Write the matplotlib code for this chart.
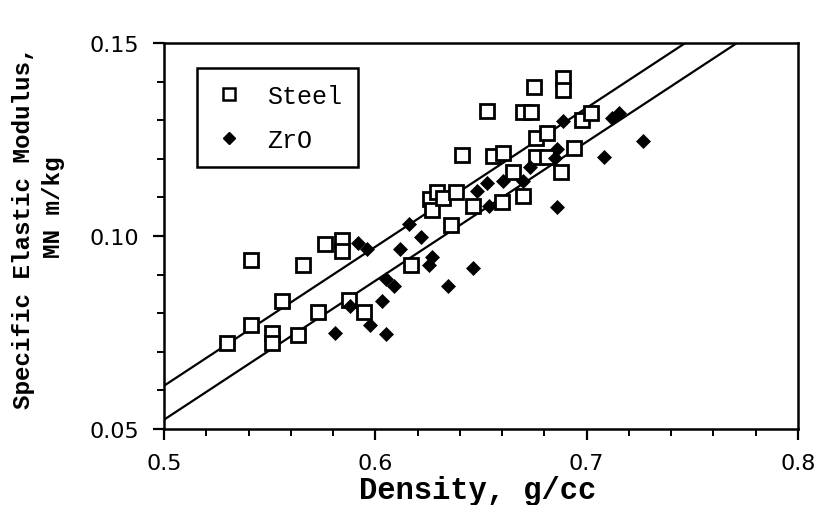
import matplotlib
matplotlib.use("Agg")
import matplotlib.pyplot as plt
import numpy as np
from matplotlib.ticker import MultipleLocator, FormatStrFormatter
from matplotlib.lines import Line2D

# ---- data ----
steel_density = [0.530, 0.541, 0.541, 0.551, 0.551, 0.556, 0.5636, 0.566, 0.573, 0.576,
                 0.584, 0.584, 0.5875, 0.5948, 0.617, 0.626, 0.627, 0.629, 0.632, 0.636,
                 0.638, 0.641, 0.6464, 0.6527, 0.6558, 0.660, 0.6606, 0.665, 0.670, 0.670,
                 0.6735, 0.675, 0.676, 0.676, 0.681, 0.681, 0.6877, 0.689, 0.689, 0.694,
                 0.6976, 0.702]
steel_modulus = [0.0722, 0.0770, 0.0939, 0.0750, 0.0722, 0.0832, 0.0743, 0.0926, 0.0804, 0.0980,
                 0.0989, 0.0961, 0.0834, 0.0803, 0.0924, 0.1096, 0.1067, 0.1115, 0.1098, 0.1028,
                 0.1113, 0.1211, 0.1077, 0.1325, 0.1206, 0.1088, 0.1215, 0.1165, 0.1104, 0.1320,
                 0.1320, 0.1387, 0.1254, 0.1205, 0.1268, 0.1205, 0.1165, 0.1409, 0.1379, 0.1228,
                 0.1301, 0.1318]

zro_density = [0.581, 0.588, 0.592, 0.596, 0.5975, 0.603, 0.605, 0.605, 0.609, 0.6117,
               0.616, 0.6215, 0.6256, 0.6267, 0.6345, 0.646, 0.648, 0.6527, 0.654, 0.6606,
               0.670, 0.673, 0.685, 0.686, 0.686, 0.6886, 0.708, 0.712, 0.7155, 0.7265]
zro_modulus = [0.0750, 0.0819, 0.0982, 0.0967, 0.0769, 0.0832, 0.0745, 0.0888, 0.0870, 0.0967,
               0.1030, 0.0998, 0.0924, 0.0946, 0.0870, 0.0918, 0.1116, 0.1137, 0.1077, 0.1142,
               0.1142, 0.1179, 0.1202, 0.1225, 0.1076, 0.1299, 0.1205, 0.1305, 0.1318, 0.1245]

# fitted lines (value at density 0.5, common slope)
line_intercepts = [0.0612, 0.0524]
line_slope = 0.36

x_ticks = [0.5, 0.6, 0.7, 0.8]
y_ticks = [0.05, 0.10, 0.15]

mono = ["Liberation Mono", "DejaVu Sans Mono"]
sans = ["DejaVu Sans"]

fig = plt.figure(figsize=(8.16, 5.06), dpi=100)
ax = fig.add_axes([164/816, 1-430/506, (798-164)/816, (430-44)/506])

ax.set_xlim(0.5, 0.8)
ax.set_ylim(0.05, 0.15)

for b in line_intercepts:
    xe = min(0.8, 0.5 + (0.15 - b) / line_slope)
    xs = np.array([0.5, xe])
    ax.plot(xs, b + line_slope * (xs - 0.5), color="black", lw=1.6, zorder=2)

ax.plot(steel_density, steel_modulus, linestyle="none", marker="s", markersize=9.5,
        markerfacecolor="white", markeredgecolor="black", markeredgewidth=2.0, zorder=3)
ax.plot(zro_density, zro_modulus, linestyle="none", marker="D", markersize=7,
        markerfacecolor="black", markeredgecolor="black", markeredgewidth=0.5, zorder=4)

ax.set_xticks(x_ticks)
ax.set_yticks(y_ticks)
ax.xaxis.set_minor_locator(MultipleLocator(0.02))
ax.yaxis.set_minor_locator(MultipleLocator(0.01))
ax.xaxis.set_major_formatter(FormatStrFormatter("%.1f"))
ax.yaxis.set_major_formatter(FormatStrFormatter("%.2f"))
ax.tick_params(which="major", direction="out", length=8, width=1.6, labelsize=16)
ax.tick_params(axis="x", which="major", pad=9)
ax.tick_params(axis="y", which="major", pad=10)
ax.tick_params(which="minor", direction="out", length=5, width=1.4)
for lab in ax.get_xticklabels() + ax.get_yticklabels():
    lab.set_family(sans)
for s in ax.spines.values():
    s.set_linewidth(1.8)

ax.set_xlabel("Density, g/cc", fontsize=22, fontweight="bold", family=mono)
ax.xaxis.set_label_coords(0.495, -0.118)
ax.set_ylabel("Specific Elastic Modulus,", fontsize=17.5, fontweight="bold", family=mono)
ax.yaxis.set_label_coords(-0.203, 0.523)
ax.text(-0.175, 0.578, "MN m/kg", transform=ax.transAxes, rotation=90,
        ha="center", va="center", fontsize=17.5, fontweight="bold", family=mono)

handles = [
    Line2D([], [], linestyle="none", marker="s", markersize=8.5, markerfacecolor="white",
           markeredgecolor="black", markeredgewidth=1.8, label="Steel"),
    Line2D([], [], linestyle="none", marker="D", markersize=6.5, markerfacecolor="black",
           markeredgecolor="black", label="ZrO"),
]
leg = ax.legend(handles=handles, loc="upper left", bbox_to_anchor=(0.052, 0.935),
                frameon=True, fancybox=False, edgecolor="black", framealpha=1,
                prop={"family": mono, "size": 18}, handletextpad=0.9, borderpad=0.62,
                labelspacing=0.8, handlelength=1.3, borderaxespad=0)
leg.get_frame().set_linewidth(1.8)

fig.savefig("out.png", dpi=100)
